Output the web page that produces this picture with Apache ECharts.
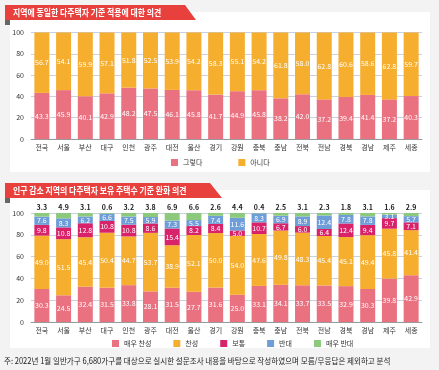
<!DOCTYPE html>
<html><head><meta charset="utf-8">
<script src="https://cdn.jsdelivr.net/npm/echarts@6/dist/echarts.min.js"></script>
<style>html,body{margin:0;padding:0;background:#f3f3f3}#c{width:439px;height:370px}</style>
</head><body><div id="c"></div>
<script>
const regions = ['전국','서울','부산','대구','인천','광주','대전','울산','경기','강원','충북','충남','전북','전남','경북','경남','제주','세종'];
const yTicks = [0,20,40,60,80,100];

const title1 = '지역에 동일한 다주택자 기준 적용에 대한 의견';
const title2 = '인구 감소 지역의 다주택자 보유 주택수 기준 완화 의견';
const note = '주: 2022년 1월 일반가구 6,680가구를 대상으로 실시한 설문조사 내용을 바탕으로 작성하였으며 모름/무응답은 제외하고 분석';

const yesName = '그렇다', noName = '아니다';
const yes = [43.3,45.9,40.1,42.9,48.2,47.5,46.1,45.8,41.7,44.9,45.8,38.2,42.0,37.2,39.4,41.4,37.2,40.3];
const no  = [56.7,54.1,59.9,57.1,51.8,52.5,53.9,54.2,58.3,55.1,54.2,61.8,58.0,62.8,60.6,58.6,62.8,59.7];

const names2 = ['매우 찬성','찬성','보통','반대','매우 반대'];
const stronglyAgree = [30.3,24.5,32.4,31.5,33.8,28.1,31.5,27.7,31.6,25.0,33.1,34.1,33.7,33.5,32.9,30.3,39.8,42.9];
const agree         = [49.0,51.5,45.4,50.4,44.7,53.7,38.9,52.1,50.0,54.0,47.6,49.8,48.3,45.4,45.1,49.4,45.8,41.4];
const neutral       = [9.8,10.8,12.8,10.8,10.8,8.6,15.4,8.2,8.4,5.0,10.7,6.7,6.0,6.4,12.4,9.4,9.7,7.1];
const disagree      = [7.6,8.3,6.2,6.6,7.5,5.9,7.3,5.5,7.4,11.6,8.3,6.9,8.9,12.4,7.8,7.8,3.1,5.7];
const stronglyDis   = [3.3,4.9,3.1,0.6,3.2,3.8,6.9,6.6,2.6,4.4,0.4,2.5,3.1,2.3,1.8,3.1,1.6,2.9];

const FONT = '"Noto Sans CJK KR","Noto Sans",sans-serif';
const C = {pink:'#ea7180', orange:'#f6ae2e', mag:'#d8236a', blue:'#6e9dd8', green:'#8cc97c'};

const chart = echarts.init(document.getElementById('c'), null, {renderer:'canvas'});

function xAxis(gi){
  return {type:'category', gridIndex:gi, data:regions,
    axisLine:{show:true, lineStyle:{color:'#9a9a9a', width:1}},
    axisTick:{show:false},
    axisLabel:{fontSize:7, color:'#333', margin:5, fontFamily:FONT, interval:0}};
}
function yAxis(gi){
  return {type:'value', gridIndex:gi, min:0, max:100, interval:20,
    axisLine:{show:false}, axisTick:{show:false},
    axisLabel:{fontSize:7, color:'#333', margin:7, fontFamily:FONT,
      formatter:v => yTicks.includes(v) ? String(v) : ''},
    splitLine:{show:true, lineStyle:{color:'#c9d0df', width:1}}};
}
const inLabel = {show:true, position:'inside', color:'#fff', fontSize:7, fontFamily:FONT,
  formatter:p => p.value.toFixed(1)};

function bar(name, data, color, gi, stack, label){
  return {type:'bar', name, data, stack, xAxisIndex:gi, yAxisIndex:gi,
    barWidth:15, itemStyle:{color}, label: label || inLabel, silent:true, animation:false};
}

chart.setOption({
  animation:false,
  backgroundColor:'#f3f3f3',
  textStyle:{fontFamily:FONT},
  graphic:[
    {type:'rect', shape:{x:10,y:12,width:420,height:160}, style:{fill:'#ffffff'}, z:-10},
    {type:'rect', shape:{x:10,y:190,width:420,height:158}, style:{fill:'#ffffff'}, z:-10},
    {type:'polygon', shape:{points:[[5,5],[185,5],[196,20],[5,20]]}, style:{fill:'#e8403d'}, z:10},
    {type:'rect', shape:{x:5,y:20,width:5,height:5}, style:{fill:'#666'}, z:10},
    {type:'text', x:13, y:12.5, scaleX:0.82, style:{text:title1, fill:'#fff', font:'bold 9.6px '+FONT, textVerticalAlign:'middle'}, z:11},
    {type:'polygon', shape:{points:[[5,183],[210,183],[222,198],[5,198]]}, style:{fill:'#e8403d'}, z:10},
    {type:'rect', shape:{x:5,y:198,width:5,height:5}, style:{fill:'#666'}, z:10},
    {type:'text', x:13, y:190.5, scaleX:0.82, style:{text:title2, fill:'#fff', font:'bold 9.6px '+FONT, textVerticalAlign:'middle'}, z:11},
    {type:'text', x:4, y:361, scaleX:0.91, style:{text:note, fill:'#222', font:'8.3px '+FONT, textVerticalAlign:'middle'}, z:11}
  ],
  legend:[
    {data:[yesName,noName], left:166, top:154, itemWidth:7, itemHeight:7, itemGap:36, icon:'rect',
      textStyle:{fontSize:7, color:'#333', fontFamily:FONT}},
    {data:names2, left:107, top:335, itemWidth:7, itemHeight:7, itemGap:22, icon:'rect',
      textStyle:{fontSize:7, color:'#333', fontFamily:FONT}}
  ],
  grid:[
    {left:31, top:32.5, width:391, height:106.5},
    {left:31, top:213, width:391, height:109}
  ],
  xAxis:[xAxis(0), xAxis(1)],
  yAxis:[yAxis(0), yAxis(1)],
  series:[
    bar(yesName, yes, C.pink, 0, 'a'),
    bar(noName, no, C.orange, 0, 'a'),
    bar(names2[0], stronglyAgree, C.pink, 1, 'b'),
    bar(names2[1], agree, C.orange, 1, 'b'),
    bar(names2[2], neutral, C.mag, 1, 'b'),
    bar(names2[3], disagree, C.blue, 1, 'b'),
    bar(names2[4], stronglyDis, C.green, 1, 'b',
      {show:true, position:'top', distance:2, color:'#222', fontSize:7, fontWeight:'bold', fontFamily:FONT,
       formatter:p => p.value.toFixed(1)})
  ]
});
</script></body></html>
